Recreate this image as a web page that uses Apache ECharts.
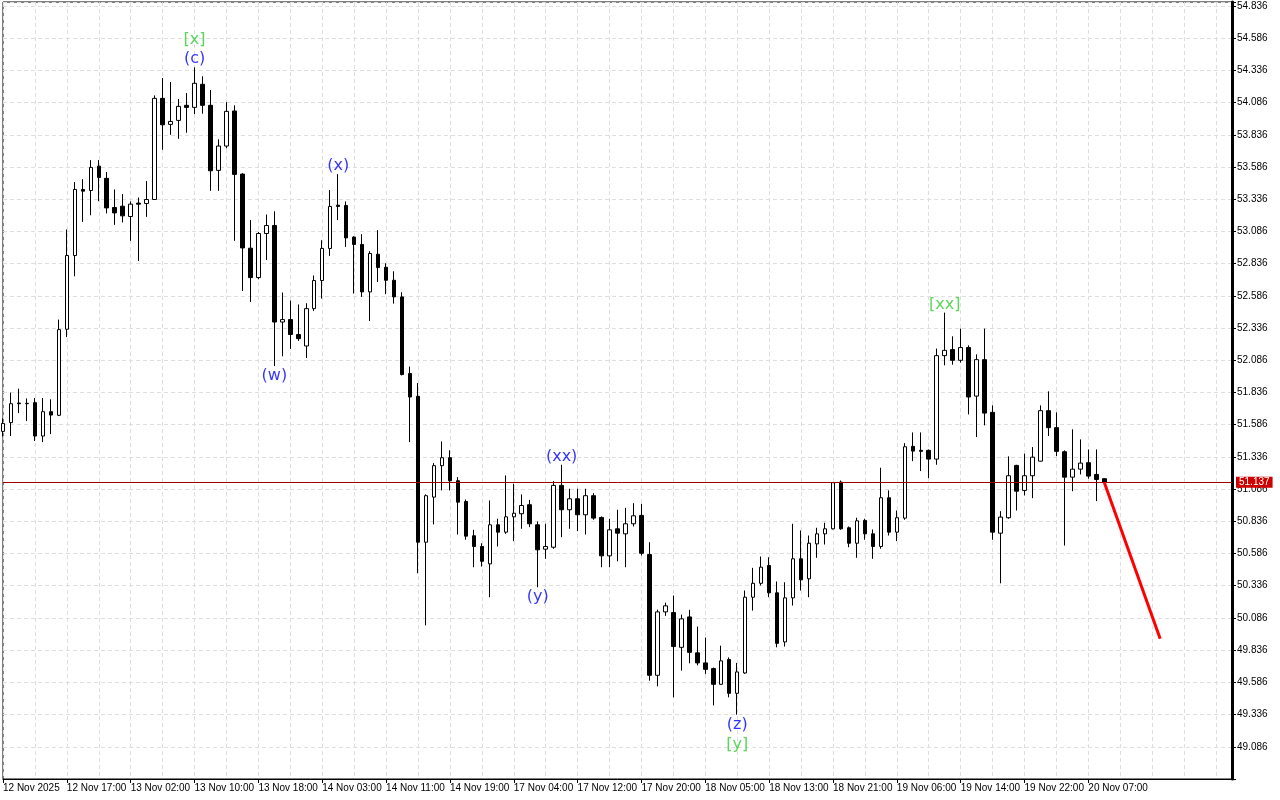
<!DOCTYPE html>
<html><head><meta charset="utf-8">
<script src="https://cdn.jsdelivr.net/npm/echarts@6/dist/echarts.min.js"></script>
<style>html,body{margin:0;padding:0;background:#fff}#c{width:1280px;height:800px}</style>
</head><body><div id="c"></div>
<script>
// trading sessions (day, first hour, last hour) -> hourly categories
const sessions = [['12 Nov',9,23],['13 Nov',1,23],['14 Nov',1,23],['17 Nov',1,23],['18 Nov',1,23],['19 Nov',1,23],['20 Nov',1,23],['21 Nov',1,2]];
const tickLabels = ['12 Nov 2025','12 Nov 17:00','13 Nov 02:00','13 Nov 10:00','13 Nov 18:00','14 Nov 03:00','14 Nov 11:00','14 Nov 19:00','17 Nov 04:00','17 Nov 12:00','17 Nov 20:00','18 Nov 05:00','18 Nov 13:00','18 Nov 21:00','19 Nov 06:00','19 Nov 14:00','19 Nov 22:00','20 Nov 07:00'];

const opens = [51.534,51.602,51.754,51.749,51.757,51.498,51.687,51.659,52.327,52.899,
53.412,53.404,53.593,53.498,53.272,53.282,53.202,53.306,53.303,53.334,
54.119,53.917,53.948,54.065,54.049,54.228,54.065,53.560,53.749,54.021,
53.531,52.956,52.728,53.070,53.132,52.383,52.402,52.286,52.197,52.487,
52.705,52.954,53.290,53.288,53.042,52.985,52.617,52.909,52.808,52.707,
52.578,51.983,51.806,50.674,51.024,51.268,51.330,51.151,50.990,50.724,
50.641,50.506,50.809,50.752,50.871,50.895,50.965,50.809,50.620,50.635,
51.115,50.926,51.011,50.887,51.035,50.866,50.568,50.778,50.739,50.817,
50.882,50.578,49.641,50.133,50.128,49.858,50.094,49.815,49.737,49.693,
49.571,49.763,49.501,49.659,50.247,50.355,50.493,50.281,49.900,50.242,
50.545,50.390,50.661,50.739,50.778,51.140,50.786,50.666,50.843,50.739,
50.641,51.019,50.752,50.861,51.418,51.387,51.387,51.319,52.122,52.169,
52.086,52.185,51.808,52.091,51.682,50.744,50.864,51.270,51.076,51.190,
51.303,51.695,51.563,51.376,51.179,51.241,51.291,51.200,51.167];
const highs = [51.635,51.835,51.866,51.790,51.793,51.793,51.783,52.402,53.101,53.469,
53.492,53.640,53.640,53.547,53.412,53.376,53.319,53.350,53.477,54.142,
54.277,54.246,54.114,54.160,54.360,54.290,54.184,53.801,54.090,54.065,
53.539,53.174,53.081,53.218,53.243,52.612,52.550,52.519,52.529,52.744,
53.018,53.407,53.531,53.319,53.049,53.065,52.933,53.096,52.839,52.777,
52.614,52.037,51.909,51.045,51.288,51.456,51.387,51.179,51.006,50.770,
50.666,50.998,50.856,51.192,51.128,51.045,51.003,50.835,50.817,51.148,
51.275,51.089,51.089,51.089,51.055,50.874,50.856,50.926,50.941,50.977,
50.972,50.674,50.151,50.205,50.260,50.112,50.149,50.019,49.934,49.701,
49.871,49.780,49.737,50.299,50.475,50.563,50.557,50.369,50.363,50.817,
50.765,50.726,50.786,50.825,51.140,51.153,50.796,50.864,50.856,50.773,
51.252,51.076,50.920,51.443,51.526,51.526,51.394,52.177,52.456,52.272,
52.332,52.202,52.132,52.332,51.736,50.915,51.340,51.275,51.361,51.412,
51.736,51.845,51.682,51.387,51.550,51.472,51.394,51.394,51.169];
const lows = [51.495,51.498,51.676,51.614,51.459,51.451,51.513,51.653,52.267,52.738,
53.160,53.212,53.321,53.226,53.137,53.156,53.013,52.857,53.199,53.331,
53.720,53.836,53.805,53.852,53.997,54.000,53.401,53.401,53.731,53.013,
52.624,52.539,52.715,52.865,52.041,52.117,52.174,52.236,52.104,52.469,
52.565,52.896,53.174,52.966,52.604,52.578,52.391,52.694,52.599,52.526,
51.969,51.451,50.433,50.029,50.812,51.076,51.076,50.734,50.693,50.480,
50.485,50.247,50.641,50.739,50.682,50.778,50.791,50.324,50.545,50.623,
50.713,50.778,50.760,50.734,50.848,50.480,50.480,50.526,50.480,50.796,
50.571,49.599,49.555,50.102,49.470,49.677,49.734,49.718,49.652,49.407,
49.568,49.470,49.335,49.652,50.143,50.338,50.247,49.858,49.864,50.182,
50.299,50.247,50.553,50.656,50.773,50.770,50.635,50.553,50.693,50.545,
50.623,50.726,50.682,50.848,51.303,51.226,51.171,51.275,52.047,52.052,
52.068,51.666,51.490,51.581,50.693,50.355,50.856,50.920,51.037,51.016,
51.301,51.498,51.342,50.648,51.070,51.200,51.167,50.993,51.130];
const closes = [51.596,51.749,51.749,51.752,51.498,51.687,51.661,52.324,52.899,53.412,
53.399,53.583,53.505,53.269,53.230,53.207,53.298,53.298,53.334,54.119,
53.914,53.940,54.057,54.049,54.236,54.065,53.557,53.749,54.018,53.529,
52.958,52.728,53.070,53.132,52.383,52.402,52.286,52.254,52.487,52.705,
52.954,53.280,53.280,53.036,52.985,52.617,52.915,52.806,52.707,52.578,
51.975,51.801,50.674,51.035,51.268,51.330,51.151,50.985,50.721,50.641,
50.526,50.809,50.752,50.871,50.899,50.959,50.817,50.615,50.641,51.115,
50.926,51.011,50.887,51.035,50.861,50.568,50.770,50.744,50.817,50.879,
50.588,49.641,50.133,50.180,49.864,50.079,49.819,49.737,49.687,49.571,
49.753,49.501,49.667,50.247,50.355,50.480,50.281,49.889,50.242,50.545,
50.382,50.666,50.739,50.778,51.136,50.778,50.666,50.840,50.739,50.641,
51.019,50.752,50.864,51.415,51.381,51.379,51.319,52.122,52.163,52.086,
52.185,51.801,52.091,51.676,50.752,50.869,51.190,51.070,51.190,51.334,
51.695,51.563,51.379,51.179,51.241,51.288,51.187,51.161,51.137];

const lastPrice = 51.137;
const forecastIdx = [138, 145];
const forecastVal = [51.137, 49.925];
// wave label, bar index, anchored at 'high' or 'low', stack level
const waves = [['(c)',24,'high',0],['[x]',24,'high',1],['(w)',34,'low',0],['(x)',42,'high',0],
['(y)',67,'low',0],['(xx)',70,'high',0],['(z)',92,'low',0],['[y]',92,'low',1],['[xx]',118,'high',0]];

const categories = [];
sessions.forEach(([d,a,b]) => { for (let h=a; h<=b; h++) categories.push(d + ' ' + String(h).padStart(2,'0') + ':00'); });
const ohlc = opens.map((o,i) => [o, closes[i], lows[i], highs[i]]);

const BLUE = '#0000ff', GREEN = '#32cd32';
const waveData = waves.map(([t,i,side,lvl]) => {
  const v = side === 'high' ? highs[i] : lows[i];
  const dy = side === 'high' ? -(8 + lvl*19) : (10 + lvl*20);
  return { value: [i, v], label: { show: true, formatter: t, position: 'inside', offset: [0, dy],
    color: t.startsWith('[') ? GREEN : BLUE, fontSize: 16, fontFamily: 'DejaVu Sans' } };
});

const chart = echarts.init(document.getElementById('c'), null, {renderer:'canvas'});
const gridLine = { show: true, lineStyle: { color: '#dedede', type: [4,3], width: 1 } };
chart.setOption({
  animation: false,
  backgroundColor: '#ffffff',
  grid: { left: 2, top: 2, right: 48, bottom: 21, show: true, borderColor: '#000', borderWidth: 1 },
  xAxis: {
    type: 'category', data: categories, boundaryGap: false,
    axisLine: { show: true, lineStyle: { color: '#000', width: 1 } },
    axisTick: { show: true, length: 4, lineStyle: { color: '#000' }, interval: (i) => i % 8 === 0 && i/8 < tickLabels.length },
    axisLabel: { show: true, interval: (i) => i % 8 === 0 && i/8 < tickLabels.length,
      formatter: (v, i) => tickLabels[i/8] || '', align: 'left', margin: 4,
      color: '#000', fontSize: 10, fontFamily: 'Liberation Sans' },
    splitLine: Object.assign({}, gridLine, { interval: (i) => i % 4 === 0 })
  },
  yAxis: {
    type: 'value', position: 'right', min: 48.836, max: 54.867, interval: 0.25, scale: true,
    axisLine: { show: true, lineStyle: { color: '#000', width: 3 } },
    axisTick: { show: true, length: 4, lineStyle: { color: '#000' } },
    axisLabel: { color: '#000', fontSize: 10, fontFamily: 'Liberation Sans', margin: 5,
      formatter: (v) => (v > 49 && v < 54.85) ? v.toFixed(3) : '' },
    splitLine: gridLine
  },
  series: [
    { type: 'candlestick', data: ohlc, barWidth: 4, clip: true,
      itemStyle: { color: '#ffffff', color0: '#000000', borderColor: '#000000', borderColor0: '#000000', borderColorDoji: '#000000', borderWidth: 1 },
      markLine: { symbol: 'none', silent: true, animation: false,
        lineStyle: { color: '#a00000', width: 1, type: 'solid' },
        label: { show: true, position: 'end', distance: 4, formatter: lastPrice.toFixed(3), color: '#fff',
          backgroundColor: '#cc0000', padding: [1,3,0,3], fontSize: 10, fontFamily: 'Liberation Sans' },
        data: [{ yAxis: lastPrice }] } },
    { type: 'scatter', data: waveData, symbolSize: 1, itemStyle: { color: 'transparent' }, silent: true, z: 5 },
    { type: 'line', data: forecastIdx.map((x,i) => [x, forecastVal[i]]), symbol: 'none',
      lineStyle: { color: '#ff0000', width: 3 }, z: 6 }
  ]
});
</script></body></html>
